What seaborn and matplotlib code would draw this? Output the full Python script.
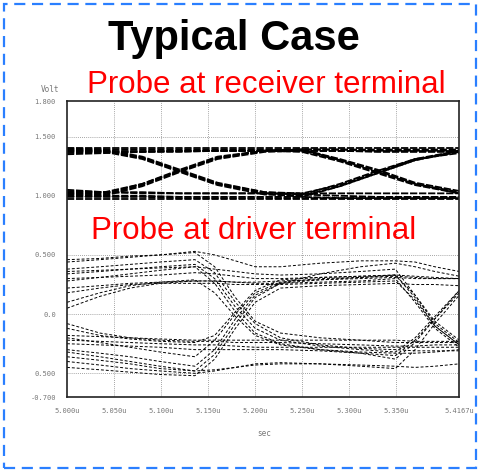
import pandas as pd
import matplotlib.pyplot as plt
import seaborn as sns
from matplotlib.patches import Rectangle

sns.set_style("white")

# time grids (usec)
rx_time = [5.000, 5.040, 5.080, 5.120, 5.160, 5.210, 5.250, 5.290, 5.330, 5.370, 5.417]
drv_time = [5.000, 5.035, 5.067, 5.099, 5.136, 5.157, 5.179, 5.200, 5.227,
            5.269, 5.312, 5.349, 5.370, 5.391, 5.417]

# receiver terminal traces (Volt)
rx_traces = [
    [1.38, 1.38, 1.38, 1.38, 1.38, 1.38, 1.38, 1.38, 1.38, 1.38, 1.38],
    [1.35, 1.36, 1.37, 1.37, 1.38, 1.38, 1.38, 1.38, 1.37, 1.37, 1.37],
    [1.40, 1.40, 1.40, 1.40, 1.40, 1.40, 1.40, 1.40, 1.40, 1.40, 1.40],
    [1.39, 1.39, 1.39, 1.39, 1.39, 1.39, 1.39, 1.30, 1.20, 1.10, 1.03],
    [1.36, 1.37, 1.37, 1.38, 1.38, 1.38, 1.37, 1.29, 1.19, 1.09, 1.02],
    [1.37, 1.37, 1.31, 1.20, 1.09, 1.01, 1.00, 1.08, 1.19, 1.30, 1.37],
    [1.39, 1.38, 1.32, 1.21, 1.10, 1.03, 1.02, 1.09, 1.20, 1.31, 1.38],
    [1.38, 1.38, 1.32, 1.21, 1.10, 1.02, 0.99, 0.98, 0.98, 0.98, 0.98],
    [1.40, 1.39, 1.33, 1.22, 1.11, 1.03, 1.01, 1.00, 0.99, 0.99, 0.99],
    [0.99, 0.99, 0.99, 0.98, 0.98, 0.98, 0.98, 0.98, 0.98, 0.98, 0.98],
    [1.03, 1.03, 1.02, 1.02, 1.02, 1.02, 1.02, 1.02, 1.02, 1.02, 1.02],
    [0.97, 0.97, 0.97, 0.97, 0.97, 0.97, 0.97, 0.97, 0.97, 0.97, 0.97],
    [1.01, 1.00, 1.00, 0.99, 0.99, 0.99, 0.99, 1.08, 1.19, 1.30, 1.38],
    [1.04, 1.03, 1.03, 1.02, 1.02, 1.02, 1.01, 1.10, 1.21, 1.31, 1.36],
    [1.00, 1.00, 1.08, 1.20, 1.31, 1.37, 1.38, 1.30, 1.21, 1.10, 1.02],
    [1.02, 1.02, 1.10, 1.21, 1.32, 1.38, 1.39, 1.31, 1.22, 1.11, 1.04],
    [1.02, 1.01, 1.09, 1.21, 1.32, 1.38, 1.39, 1.39, 1.39, 1.39, 1.39],
    [1.05, 1.03, 1.10, 1.22, 1.33, 1.38, 1.39, 1.39, 1.38, 1.38, 1.38],
]

# driver terminal traces (Volt)
drv_traces = [
    [0.44, 0.46, 0.48, 0.50, 0.53, 0.50, 0.45, 0.40, 0.40, 0.43, 0.45, 0.45, 0.44, 0.40, 0.36],
    [0.30, 0.31, 0.32, 0.33, 0.35, 0.34, 0.32, 0.30, 0.30, 0.31, 0.32, 0.33, 0.32, 0.31, 0.30],
    [0.36, 0.37, 0.38, 0.39, 0.40, 0.38, 0.36, 0.34, 0.33, 0.34, 0.36, 0.38, 0.16, -0.08, -0.24],
    [0.22, 0.24, 0.26, 0.27, 0.28, 0.28, 0.27, 0.26, 0.26, 0.27, 0.28, 0.30, 0.10, -0.12, -0.28],
    [0.34, 0.36, 0.38, 0.40, 0.42, 0.30, 0.06, -0.12, -0.22, -0.27, -0.30, -0.32, -0.20, -0.02, 0.20],
    [0.28, 0.31, 0.34, 0.37, 0.40, 0.26, 0.02, -0.16, -0.25, -0.30, -0.32, -0.33, -0.33, -0.32, -0.30],
    [0.38, 0.40, 0.42, 0.44, 0.46, 0.35, 0.10, -0.08, -0.20, -0.26, -0.29, -0.30, -0.31, -0.31, -0.31],
    [0.05, 0.15, 0.22, 0.26, 0.28, 0.28, 0.27, 0.27, 0.28, 0.29, 0.30, 0.31, 0.30, 0.30, 0.30],
    [0.10, 0.18, 0.24, 0.27, 0.29, 0.18, -0.02, -0.18, -0.26, -0.30, -0.33, -0.35, -0.22, -0.04, 0.18],
    [0.18, 0.22, 0.25, 0.26, 0.26, 0.26, 0.25, 0.25, 0.25, 0.26, 0.27, 0.28, 0.12, -0.10, -0.26],
    [-0.22, -0.23, -0.24, -0.25, -0.26, -0.26, -0.27, -0.28, -0.28, -0.28, -0.28, -0.28, -0.28, -0.28, -0.28],
    [-0.36, -0.39, -0.42, -0.46, -0.48, -0.47, -0.45, -0.43, -0.42, -0.42, -0.43, -0.44, -0.45, -0.44, -0.42],
    [-0.25, -0.26, -0.27, -0.28, -0.30, -0.30, -0.30, -0.30, -0.30, -0.31, -0.33, -0.38, -0.24, -0.04, 0.20],
    [-0.30, -0.33, -0.36, -0.40, -0.44, -0.30, -0.04, 0.16, 0.26, 0.29, 0.31, 0.33, 0.14, -0.10, -0.26],
    [-0.20, -0.24, -0.28, -0.32, -0.36, -0.22, 0.00, 0.18, 0.27, 0.30, 0.31, 0.32, 0.31, 0.30, 0.30],
    [-0.32, -0.36, -0.40, -0.44, -0.48, -0.34, -0.08, 0.14, 0.26, 0.34, 0.40, 0.43, 0.40, 0.36, 0.32],
    [-0.08, -0.16, -0.20, -0.22, -0.23, -0.23, -0.24, -0.24, -0.24, -0.25, -0.26, -0.27, -0.27, -0.26, -0.26],
    [-0.12, -0.18, -0.21, -0.23, -0.24, -0.18, 0.02, 0.20, 0.29, 0.31, 0.32, 0.33, 0.16, -0.06, -0.22],
    [-0.45, -0.47, -0.49, -0.51, -0.52, -0.38, -0.12, 0.10, 0.22, 0.24, 0.25, 0.26, 0.25, 0.25, 0.24],
    [0.46, 0.47, 0.49, 0.50, 0.52, 0.40, 0.14, -0.06, -0.16, -0.20, -0.22, -0.24, -0.24, -0.24, -0.24],
    [-0.18, -0.19, -0.20, -0.21, -0.22, -0.22, -0.22, -0.22, -0.22, -0.22, -0.22, -0.22, -0.23, -0.23, -0.23],
    [-0.40, -0.43, -0.46, -0.48, -0.50, -0.48, -0.45, -0.42, -0.41, -0.42, -0.44, -0.46, -0.30, -0.08, 0.16],
]

y_ticks = [1.8, 1.5, 1.0, 0.5, 0.0, -0.5, -0.7]
y_labels = ["1.800", "1.500", "1.000", "0.500", "0.0", "0.500", "-0.700"]
x_ticks = [5.000, 5.050, 5.100, 5.150, 5.200, 5.250, 5.300, 5.350, 5.4167]
x_labels = ["5.000u", "5.050u", "5.100u", "5.150u", "5.200u", "5.250u", "5.300u", "5.350u", "5.4167u"]


def long_form(times, traces):
    rows = []
    for i, tr in enumerate(traces):
        for t, v in zip(times, tr):
            rows.append({"t": t, "v": v, "trace": i})
    return pd.DataFrame(rows)


rx_df = long_form(rx_time, rx_traces)
drv_df = long_form(drv_time, drv_traces)

fig = plt.figure(figsize=(4.8, 4.72), dpi=100)
ax = fig.add_axes([67 / 480, 1 - 397 / 472, 392 / 480, 296 / 472])

sns.lineplot(data=rx_df, x="t", y="v", units="trace", estimator=None, ax=ax,
             color="black", lw=1.3, linestyle=(0, (4, 1)), legend=False)
sns.lineplot(data=drv_df, x="t", y="v", units="trace", estimator=None, ax=ax,
             color="black", lw=0.7, linestyle=(0, (3, 2)), legend=False)

ax.set_xlim(5.0, 5.4167)
ax.set_ylim(-0.7, 1.8)
ax.set_yticks(y_ticks)
ax.set_yticklabels(y_labels)
ax.set_xticks(x_ticks)
ax.set_xticklabels(x_labels)
ax.set_xlabel("")
ax.set_ylabel("")
for lab in ax.get_yticklabels() + ax.get_xticklabels():
    lab.set_fontfamily("DejaVu Sans Mono")
    lab.set_fontsize(5)
    lab.set_color("#777777")
ax.tick_params(axis="both", length=0, pad=8)
ax.set_yticks([v / 10 for v in range(-7, 19)], minor=True)
ax.set_xticks([5.0 + k / 100 for k in range(42)], minor=True)
ax.tick_params(which="minor", direction="in", length=3, width=0.6, color="#555555")

for y in [1.5, 1.0, 0.5, 0.0, -0.5]:
    ax.axhline(y, color="#888888", lw=0.6, ls=(0, (1, 1.5)), zorder=0)
for x in x_ticks[1:-1]:
    ax.axvline(x, color="#888888", lw=0.6, ls=(0, (1, 1.5)), zorder=0)

for side in ax.spines.values():
    side.set_color("#222222")
    side.set_linewidth(1.2)

fig.text(50 / 480, 1 - 90 / 472, "Volt", fontsize=5.5, color="#777777",
         family="DejaVu Sans Mono", ha="center", va="center")
fig.text(264 / 480, 1 - 433 / 472, "sec", fontsize=5.5, color="#777777",
         family="DejaVu Sans Mono", ha="center", va="center")

fig.text(234 / 480, 1 - 39 / 472, "Typical Case", fontsize=30, fontweight="bold",
         color="black", family="Liberation Sans", ha="center", va="center")
fig.text(266 / 480, 1 - 85 / 472, "Probe at receiver terminal", fontsize=22.5,
         color="red", family="Liberation Sans", ha="center", va="center")
fig.text(254 / 480, 1 - 231 / 472, "Probe at driver terminal", fontsize=22.5,
         color="red", family="Liberation Sans", ha="center", va="center")

fig.patches.append(Rectangle((4 / 480, 4 / 472), 472 / 480, 464 / 472,
                             transform=fig.transFigure, fill=False,
                             edgecolor="#2a7fff", lw=1.6, ls=(0, (5, 3))))

fig.savefig("out.png", dpi=100)
